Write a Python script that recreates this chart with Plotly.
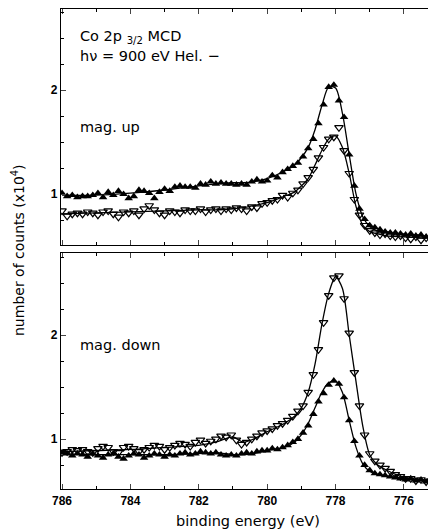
import numpy as np
import plotly.graph_objects as go

# energy grid of the measured points (eV), 0.15 eV steps from 786 down to 775.2
energy = np.round(786 - 0.15 * np.arange(73), 2)

# mag. up panel
up_filled = [
    1.01, 0.98, 0.99, 0.97, 0.98, 0.98, 0.99, 1.01, 0.97, 1.02,
    0.99, 1.03, 1.00, 0.96, 0.98, 1.04, 1.03, 1.01, 0.96, 1.02,
    1.05, 1.03, 1.07, 1.08, 1.07, 1.07, 1.06, 1.10, 1.09, 1.12,
    1.10, 1.11, 1.10, 1.10, 1.09, 1.10, 1.09, 1.12, 1.14, 1.12,
    1.13, 1.18, 1.16, 1.21, 1.24, 1.27, 1.30, 1.36, 1.44, 1.53,
    1.68, 1.86, 2.03, 2.05, 1.90, 1.74, 1.38, 1.08, 0.86, 0.76,
    0.70, 0.68, 0.66, 0.64, 0.63, 0.63, 0.62, 0.61, 0.62, 0.60,
    0.61, 0.59, 0.60]
up_open = [
    0.84, 0.79, 0.81, 0.82, 0.81, 0.83, 0.82, 0.80, 0.83, 0.84,
    0.81, 0.78, 0.83, 0.82, 0.84, 0.80, 0.86, 0.89, 0.85, 0.82,
    0.80, 0.84, 0.83, 0.82, 0.85, 0.84, 0.84, 0.86, 0.83, 0.85,
    0.86, 0.84, 0.86, 0.85, 0.87, 0.86, 0.84, 0.88, 0.87, 0.91,
    0.92, 0.94, 0.95, 0.99, 0.97, 1.01, 1.04, 1.10, 1.16, 1.24,
    1.35, 1.45, 1.53, 1.55, 1.64, 1.42, 1.20, 0.95, 0.80, 0.70,
    0.65, 0.63, 0.61, 0.62, 0.60, 0.59, 0.60, 0.58, 0.57, 0.59,
    0.56, 0.58, 0.57]

# mag. down panel
down_filled = [
    0.87, 0.86, 0.84, 0.86, 0.85, 0.83, 0.86, 0.84, 0.82, 0.85,
    0.86, 0.83, 0.81, 0.84, 0.86, 0.85, 0.82, 0.84, 0.86, 0.85,
    0.83, 0.85, 0.84, 0.86, 0.87, 0.85, 0.86, 0.88, 0.87, 0.86,
    0.87, 0.85, 0.84, 0.85, 0.84, 0.86, 0.87, 0.86, 0.88, 0.89,
    0.89, 0.91, 0.90, 0.92, 0.94, 0.97, 1.00, 1.06, 1.13, 1.24,
    1.36, 1.44, 1.52, 1.56, 1.53, 1.40, 1.18, 0.98, 0.84, 0.75,
    0.70, 0.67, 0.66, 0.65, 0.64, 0.63, 0.62, 0.61, 0.62, 0.60,
    0.61, 0.59, 0.60]
down_open = [
    0.87, 0.88, 0.90, 0.89, 0.90, 0.88, 0.87, 0.91, 0.93, 0.92,
    0.88, 0.87, 0.92, 0.93, 0.91, 0.88, 0.90, 0.92, 0.94, 0.93,
    0.90, 0.92, 0.94, 0.96, 0.95, 0.93, 0.97, 0.99, 0.96, 0.98,
    1.00, 1.03, 1.02, 1.04, 0.99, 0.95, 0.97, 1.00, 1.03, 1.06,
    1.08, 1.10, 1.13, 1.15, 1.18, 1.22, 1.27, 1.32, 1.45, 1.62,
    1.86, 2.12, 2.38, 2.55, 2.57, 2.35, 2.02, 1.64, 1.32, 1.04,
    0.86, 0.79, 0.75, 0.72, 0.69, 0.66, 0.64, 0.62, 0.62, 0.60,
    0.61, 0.59, 0.60]

# fitted curves
fit_energy = [786, 785, 784, 783, 782, 781.5, 781, 780.7, 780.4, 780, 779.5, 779.2,
              779, 778.8, 778.6, 778.4, 778.2, 778.0, 777.8, 777.6, 777.4, 777.2,
              777.0, 776.8, 776.5, 776, 775.5, 775.1]
fit_up_filled = [0.99, 0.99, 1.01, 1.04, 1.08, 1.10, 1.11, 1.11, 1.12, 1.15, 1.22, 1.28,
                 1.35, 1.45, 1.62, 1.85, 2.03, 2.02, 1.78, 1.38, 1.00, 0.78,
                 0.69, 0.65, 0.63, 0.61, 0.60, 0.59]
fit_up_open = [0.81, 0.82, 0.83, 0.84, 0.85, 0.85, 0.86, 0.87, 0.89, 0.92, 0.98, 1.02,
               1.08, 1.15, 1.28, 1.42, 1.53, 1.56, 1.45, 1.20, 0.88, 0.70,
               0.64, 0.62, 0.60, 0.59, 0.58, 0.58]
fit_down_filled = [0.86, 0.85, 0.85, 0.85, 0.86, 0.87, 0.85, 0.85, 0.86, 0.89, 0.92, 0.97,
                   1.04, 1.15, 1.30, 1.45, 1.54, 1.56, 1.45, 1.18, 0.92, 0.76,
                   0.69, 0.66, 0.64, 0.62, 0.60, 0.59]
fit_down_open = [0.88, 0.89, 0.90, 0.92, 0.94, 0.97, 1.02, 0.97, 1.00, 1.07, 1.15, 1.22,
                 1.30, 1.45, 1.72, 2.10, 2.40, 2.56, 2.45, 2.00, 1.55, 1.12,
                 0.85, 0.76, 0.70, 0.63, 0.60, 0.59]

FONT = "DejaVu Sans"
TICKFONT = dict(family="Liberation Sans", size=12, color="black", weight="bold")

fig = go.Figure()

def add_panel(filled, opened, fit_f, fit_o, xa, ya):
    for fy in (fit_f, fit_o):
        fig.add_trace(go.Scatter(x=fit_energy, y=fy, mode="lines",
                                 line=dict(color="black", width=1.3, shape="spline", smoothing=0.8),
                                 xaxis=xa, yaxis=ya, showlegend=False, hoverinfo="skip"))
    fig.add_trace(go.Scatter(x=energy, y=filled, mode="markers",
                             marker=dict(symbol="triangle-up", size=7.5, color="black"),
                             xaxis=xa, yaxis=ya, showlegend=False))
    fig.add_trace(go.Scatter(x=energy, y=opened, mode="markers",
                             marker=dict(symbol="triangle-down-open", size=7.5, color="black", line=dict(width=1.2)),
                             xaxis=xa, yaxis=ya, showlegend=False))

add_panel(up_filled, up_open, fit_up_filled, fit_up_open, "x2", "y2")
add_panel(down_filled, down_open, fit_down_filled, fit_down_open, "x", "y")

xcommon = dict(range=[786.03, 775.12], tick0=786, dtick=2, ticks="inside", ticklen=5,
               showline=True, linecolor="black", linewidth=1.3, mirror="ticks",
               showgrid=False, zeroline=False, tickfont=TICKFONT,
               minor=dict(dtick=1, ticks="inside", ticklen=3, tickcolor="black"))
ycommon = dict(tick0=0, dtick=1, ticks="inside", ticklen=5,
               showline=True, linecolor="black", linewidth=1.3, mirror="ticks",
               showgrid=False, zeroline=False, tickfont=TICKFONT,
               minor=dict(dtick=0.25, ticks="inside", ticklen=3, tickcolor="black"))

# the page body adds an 8px offset, so the figure is sized/margined to compensate
fig.update_layout(
    width=428, height=524,
    margin=dict(l=53, r=2, t=1, b=43),
    paper_bgcolor="white", plot_bgcolor="white",
    font=dict(family=FONT, size=12, color="black"),
    xaxis=dict(**xcommon, anchor="y"),
    yaxis=dict(**ycommon, range=[0.52, 2.79], domain=[0, 0.492], anchor="x"),
    xaxis2=dict(**xcommon, anchor="y2", showticklabels=False, matches="x"),
    yaxis2=dict(**ycommon, range=[0.51, 2.78], domain=[0.508, 1], anchor="x2"),
)

def px(x):
    return (x - 61) / 373

def py(y):
    return (489 - y) / 480

ann = [
    ("Co 2p <sub>3/2</sub> MCD", 78, 37),
    ("h\u03bd = 900 eV Hel. \u2212", 78, 56),
    ("mag. up", 78, 127),
    ("mag. down", 78, 345),
]
for text, x, y in ann:
    fig.add_annotation(text=text, x=px(x), y=py(y), xref="paper", yref="paper",
                       xanchor="left", yanchor="middle", showarrow=False,
                       font=dict(family=FONT, size=14.5, color="black"))

fig.add_annotation(text="number of counts (x10<sup>4</sup>)", x=px(18), y=py(250),
                   xref="paper", yref="paper", textangle=-90, showarrow=False,
                   xanchor="center", yanchor="middle", font=dict(family=FONT, size=14, color="black"))
fig.add_annotation(text="binding energy (eV)", x=px(248), y=py(521),
                   xref="paper", yref="paper", showarrow=False,
                   xanchor="center", yanchor="middle", font=dict(family=FONT, size=14.5, color="black"))

fig.write_html("out.html")
